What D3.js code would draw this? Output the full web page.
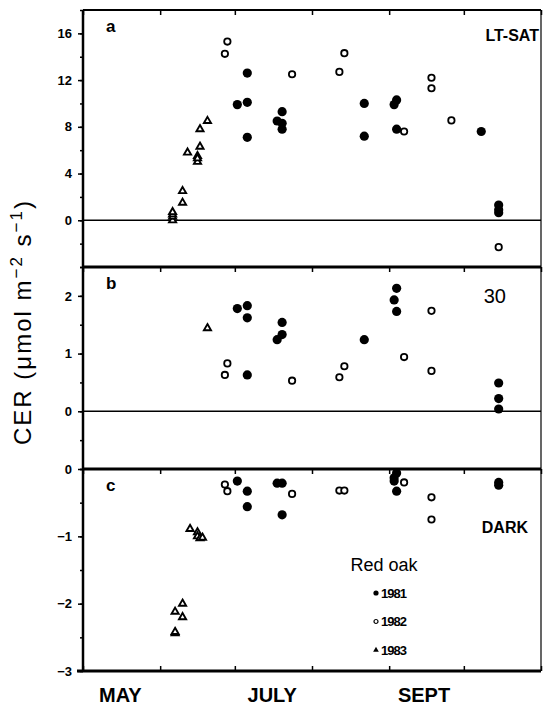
<!DOCTYPE html>
<html>
<head>
<meta charset="utf-8">
<script src="https://cdn.jsdelivr.net/npm/d3@7"></script>
<style>
  body { margin: 0; background: #fff; }
  svg text { font-family: "Liberation Sans", Arial, sans-serif; fill: #000; }
</style>
</head>
<body>
<svg id="chart" width="543" height="707"></svg>
<script>
// dates are month-day of the season, values CER in umol m-2 s-1
var a1981 = [["07-02",9.9],["07-06",12.6],["07-06",10.1],["07-06",7.1],["07-18",8.5],["07-20",9.3],["07-20",8.3],["07-20",7.8],
             ["08-22",10.0],["08-22",7.2],["09-04",10.3],["09-03",9.9],["09-04",7.8],["10-08",7.6],["10-15",1.3],["10-15",0.9],["10-15",0.65]];
var a1982 = [["06-27",14.25],["06-28",15.3],["07-24",12.5],["08-12",12.7],["08-14",14.3],["09-07",7.6],["09-18",12.2],["09-18",11.3],["09-26",8.55],["10-15",-2.3]];
var a1983 = [["06-06",0.0],["06-06",0.3],["06-06",0.5],["06-06",0.7],["06-10",2.5],["06-10",1.5],["06-12",5.8],["06-16",5.5],["06-16",5.0],
             ["06-16",5.3],["06-17",6.3],["06-17",7.8],["06-20",8.5]];

var b1981 = [["07-02",1.78],["07-06",1.83],["07-06",1.62],["07-06",0.63],["07-18",1.24],["07-20",1.33],["07-20",1.54],["08-22",1.24],
             ["09-04",2.13],["09-03",1.93],["09-04",1.73],["10-15",0.49],["10-15",0.22],["10-15",0.04]];
var b1982 = [["06-27",0.63],["06-28",0.83],["07-24",0.53],["08-12",0.59],["08-14",0.78],["09-07",0.94],["09-18",1.74],["09-18",0.70]];
var b1983 = [["06-20",1.44]];

var c1981 = [["07-02",-0.18],["07-06",-0.33],["07-06",-0.56],["07-18",-0.21],["07-20",-0.21],["07-20",-0.68],["09-04",-0.06],["09-03",-0.13],
             ["09-03",-0.18],["09-04",-0.33],["10-15",-0.2],["10-15",-0.24]];
var c1982 = [["06-27",-0.23],["06-28",-0.33],["07-24",-0.37],["08-12",-0.32],["08-14",-0.32],["09-07",-0.2],["09-18",-0.42],["09-18",-0.75]];
var c1983 = [["06-13",-0.89],["06-16",-0.94],["06-16",-1.0],["06-17",-1.03],["06-18",-1.02],["06-07",-2.12],["06-10",-2.0],["06-10",-2.2],
             ["06-07",-2.44],["06-07",-2.42]];

var monthLabels = [["05-16","MAY"],["07-16","JULY"],["09-15","SEPT"]];
var years = ["1981","1982","1983"];

var ticksA = [0,4,8,12,16], ticksB = [0,1,2], ticksC = [0,-1,-2,-3];

let svg = d3.select('#chart'),
    left = 83, right = 541;

let parse = d3.utcParse('%m-%d');

let x = d3.scaleUtc()
          .domain([parse('05-01'), parse('11-01')])
          .range([left, right]);

let panels = [
  {id:'a', y:d3.scaleLinear().domain([-4,18]).range([267,10]), ticks:ticksA, minor:d3.range(-4,18.1,2),
   series:[a1981,a1982,a1983], tag:'LT-SAT', zero:true},
  {id:'b', y:d3.scaleLinear().domain([-1,2.5]).range([469,267]), ticks:ticksB, minor:d3.range(-1,2.6,0.5),
   series:[b1981,b1982,b1983], tag:'30', zero:true},
  {id:'c', y:d3.scaleLinear().domain([-3,0]).range([671,469]), ticks:ticksC, minor:d3.range(-3,0.1,0.5),
   series:[c1981,c1982,c1983], tag:'DARK', zero:false}
];

let tri = d3.symbol().type(d3.symbolTriangle).size(22);
let triSmall = d3.symbol().type(d3.symbolTriangle).size(14);
let fmt = (d) => d < 0 ? '\u2212' + Math.abs(d) : '' + d;

panels.forEach((p) => {
  let g = svg.append('g').attr('class','panel-' + p.id);
  let top = p.y.range()[1], bot = p.y.range()[0];

  // y axis, outward ticks
  let ax = g.append('g').attr('transform','translate(' + left + ',0)');
  ax.call(d3.axisLeft(p.y).tickValues(p.minor).tickSize(3).tickFormat(''))
    .call((s) => s.select('.domain').remove());
  ax.append('g')
    .call(d3.axisLeft(p.y).tickValues(p.ticks).tickSize(5).tickPadding(6).tickFormat(fmt))
    .call((s) => s.select('.domain').remove())
    .selectAll('text')
      .attr('font-size', 13).attr('font-weight','bold')
      .attr('font-family','"Liberation Sans Narrow","Liberation Sans",sans-serif');
  ax.selectAll('line').attr('stroke','#000').attr('stroke-width',1.5);

  // month ticks inside the top edge
  g.append('g').attr('transform','translate(0,' + top + ')')
    .call(d3.axisBottom(x).ticks(d3.utcMonth.every(1)).tickSize(5).tickFormat(''))
    .call((s) => s.select('.domain').remove())
    .selectAll('line').attr('stroke','#000').attr('stroke-width',1.5);

  // frame
  g.append('line').attr('x1',left).attr('x2',right).attr('y1',top).attr('y2',top)
    .attr('stroke','#000').attr('stroke-width', p.id == 'a' ? 2 : 3);
  g.append('line').attr('x1',right).attr('x2',right).attr('y1',top).attr('y2',bot)
    .attr('stroke','#000').attr('stroke-width',1.2);
  g.append('line').attr('x1',left).attr('x2',left).attr('y1',top).attr('y2',bot)
    .attr('stroke','#000').attr('stroke-width',2.5);
  if (p.zero) {
    g.append('line').attr('x1',left).attr('x2',right).attr('y1',p.y(0)).attr('y2',p.y(0))
      .attr('stroke','#000').attr('stroke-width',1.6);
  }

  // points
  g.selectAll('circle.y1981').data(p.series[0]).enter().append('circle')
    .attr('class','y1981')
    .attr('cx',(d) => x(parse(d[0]))).attr('cy',(d) => p.y(d[1]))
    .attr('r',4.6).attr('fill','#000');
  g.selectAll('circle.y1982').data(p.series[1]).enter().append('circle')
    .attr('class','y1982')
    .attr('cx',(d) => x(parse(d[0]))).attr('cy',(d) => p.y(d[1]))
    .attr('r',3.2).attr('fill','#fff').attr('stroke','#000').attr('stroke-width',1.8);
  g.selectAll('path.y1983').data(p.series[2]).enter().append('path')
    .attr('class','y1983')
    .attr('d',tri)
    .attr('transform',(d) => 'translate(' + x(parse(d[0])) + ',' + p.y(d[1]) + ')')
    .attr('fill','#fff').attr('stroke','#000').attr('stroke-width',1.9);

  // panel letter and condition
  g.append('text').attr('x',106).attr('y',top + 22)
    .attr('font-size',17).attr('font-weight','bold').text(p.id);
  let tag = g.append('text').text(p.tag).attr('text-anchor','end');
  if (p.id == 'a') tag.attr('x',539).attr('y',top + 31).attr('font-size',16).attr('font-weight','bold');
  if (p.id == 'b') tag.attr('x',506).attr('y',top + 36).attr('font-size',20);
  if (p.id == 'c') tag.attr('x',528).attr('y',top + 64).attr('font-size',16).attr('font-weight','bold');
});

// bottom frame with inward month ticks
let bottom = svg.append('g').attr('transform','translate(0,671)');
bottom.call(d3.axisTop(x).ticks(d3.utcMonth.every(1)).tickSize(5).tickFormat(''))
  .call((s) => s.select('.domain').remove())
  .selectAll('line').attr('stroke','#000').attr('stroke-width',1.5);
svg.append('line').attr('x1',left - 6).attr('x2',right).attr('y1',671).attr('y2',671)
  .attr('stroke','#000').attr('stroke-width',3);

svg.selectAll('text.month').data(monthLabels).enter().append('text')
  .attr('class','month')
  .attr('x',(d) => x(parse(d[0]))).attr('y',702)
  .attr('text-anchor','middle').attr('font-size',20).attr('font-weight','bold')
  .attr('font-family','"Liberation Sans Narrow","Liberation Sans",sans-serif')
  .text((d) => d[1]);

// y title
let title = svg.append('text')
  .attr('transform','translate(31,322) rotate(-90)')
  .attr('text-anchor','middle').attr('font-size',24).attr('letter-spacing',2);
title.append('tspan').text('CER  (\u03bcmol m');
title.append('tspan').attr('dy',-9).attr('font-size',17).text('\u22122');
title.append('tspan').attr('dy',9).text(' s');
title.append('tspan').attr('dy',-9).attr('font-size',17).text('\u22121');
title.append('tspan').attr('dy',9).text(')');

// legend
let legend = svg.append('g').attr('class','legend');
legend.append('text').attr('x',384).attr('y',571).attr('text-anchor','middle')
  .attr('font-size',18).text('Red oak');
let items = legend.selectAll('g.item').data(years).enter().append('g')
  .attr('class','item')
  .attr('transform',(d,i) => 'translate(376,' + (593 + i*28.5) + ')');
items.append('text').attr('x',5).attr('y',4.5).attr('font-size',13).attr('font-weight','bold')
  .attr('letter-spacing',-1)
  .attr('font-family','"Liberation Sans Narrow","Liberation Sans",sans-serif')
  .text((d) => d);
items.filter((d) => d == '1981').append('circle').attr('r',2.6).attr('fill','#000');
items.filter((d) => d == '1982').append('circle').attr('r',2).attr('fill','#fff')
  .attr('stroke','#000').attr('stroke-width',1.2);
items.filter((d) => d == '1983').append('path').attr('d',triSmall).attr('fill','#000');
</script>
</body>
</html>
